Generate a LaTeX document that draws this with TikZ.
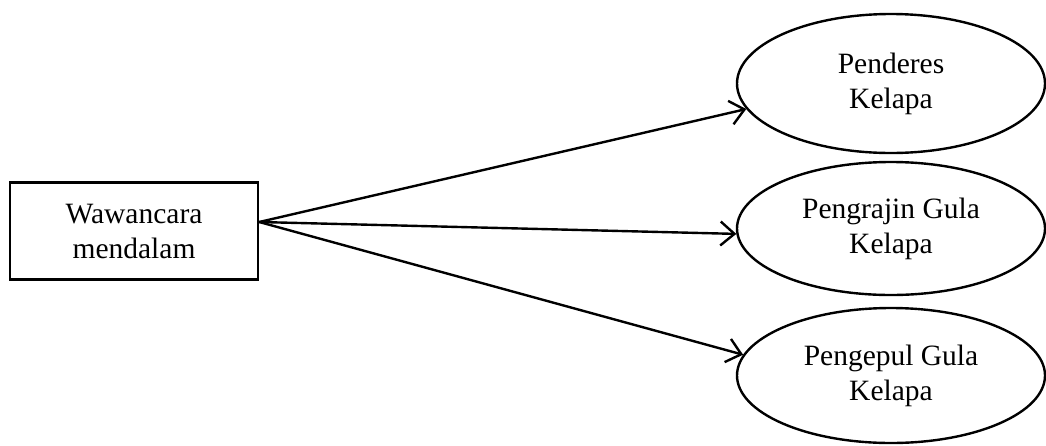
\documentclass[tikz,border=0pt]{standalone}
\usepackage{fontspec}
\setmainfont{Liberation Serif}
\usetikzlibrary{shapes.geometric,arrows.meta}
\begin{document}
\begin{tikzpicture}[x=1pt,y=-1pt,
  every node/.style={font=\fontsize{29.5}{35}\selectfont, align=center, line width=2.4pt, inner sep=0pt},
  srcbox/.style={draw, rectangle, minimum width=248pt, minimum height=97pt},
  target/.style={draw, ellipse, minimum width=308pt},
  link/.style={line width=2.4pt, -{Straight Barb[length=14pt,width=24pt,line width=2.4pt]}}]
\useasboundingbox (0,0) rectangle (1046,445);
\node[srcbox] (src) at (134,231) {Wawancara\\mendalam};
\node[target, minimum height=139pt] (e1) at (891,83.5) {Penderes\\Kelapa};
\node[target, minimum height=133pt] (e2) at (891,228.5) {Pengrajin Gula\\Kelapa};
\node[target, minimum height=135pt] (e3) at (891,375.5) {Pengepul Gula\\Kelapa};
\coordinate (s) at ([yshift=9pt]src.east);
\draw[link] (s) -- (e1.190);
\draw[link] (s) -- (e2.182);
\draw[link] (s) -- (e3.172);
\end{tikzpicture}
\end{document}
